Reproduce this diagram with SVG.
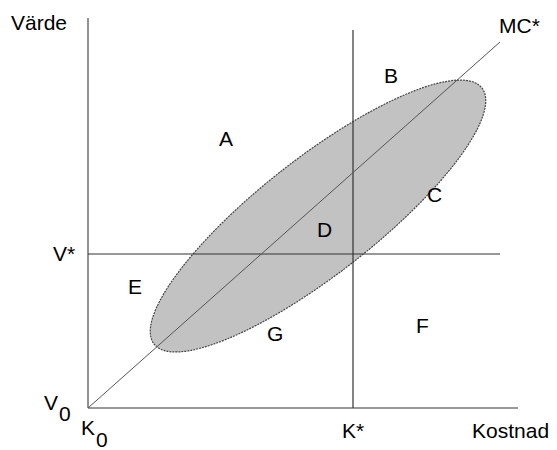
<svg xmlns="http://www.w3.org/2000/svg" width="557" height="450" viewBox="0 0 557 450">
<style>
text{font-family:"Liberation Sans",Arial,sans-serif;font-size:21px;fill:#000}
.ax{stroke:#777;stroke-width:1.6;fill:none}
.ln{stroke:#333;stroke-width:1.2;fill:none}
</style>
<rect width="557" height="450" fill="#fff"/>
<g id="region-ellipse">
<ellipse cx="318" cy="216" rx="208" ry="58" transform="rotate(-38 318 216)" fill="#c2c2c2" stroke="#444" stroke-width="1.2" stroke-dasharray="2 1"/>
</g>
<g id="connectors">
<line class="ax" x1="88" y1="18" x2="88" y2="408"/>
<line class="ax" x1="88" y1="408" x2="518" y2="408"/>
<line class="ln" x1="353" y1="30" x2="353" y2="408"/>
<line class="ln" x1="88" y1="254" x2="500" y2="254"/>
<line x1="88" y1="408" x2="500" y2="42" stroke="#555" stroke-width="1"/>
</g>
<g id="labels">
<text x="11" y="30">Värde</text>
<text x="499" y="33">MC*</text>
<text x="219" y="146">A</text>
<text x="384" y="83">B</text>
<text x="427" y="202">C</text>
<text x="317" y="237">D</text>
<text x="53" y="261">V*</text>
<text x="128" y="294">E</text>
<text x="416" y="333">F</text>
<text x="267" y="341">G</text>
<text x="44" y="410">V</text><text x="59" y="421">0</text>
<text x="81" y="435">K</text><text x="96" y="447">0</text>
<text x="342" y="438">K*</text>
<text x="472" y="438">Kostnad</text>
</g>
</svg>
